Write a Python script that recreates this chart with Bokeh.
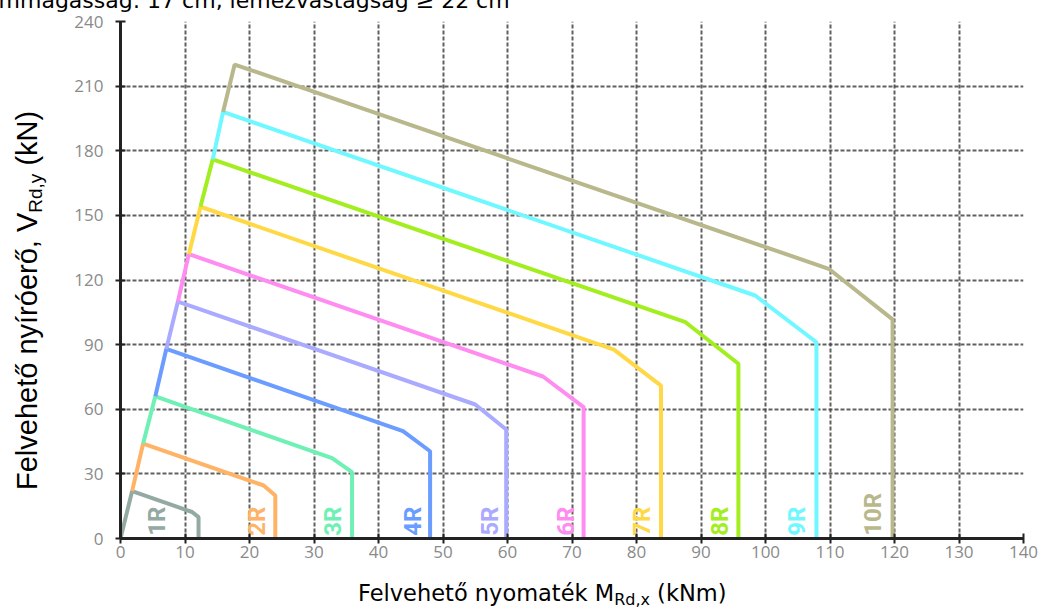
import math
from bokeh.plotting import figure
from bokeh.models import ColumnDataSource, Range1d, FixedTicker, Div
from bokeh.layouts import column, row
from bokeh.embed import file_html
from bokeh.resources import INLINE
from bokeh.core.properties import value

# ---------------- data ----------------
series = ["1R", "2R", "3R", "4R", "5R", "6R", "7R", "8R", "9R", "10R"]
colors = ["#93aaa3", "#ffb366", "#6ff0b4", "#6b9cff", "#aaaaff",
          "#ff8cf0", "#ffd945", "#a2ee1e", "#6ff8ff", "#b8b88c"]
# peak (start of the sloping branch): moment kNm / shear kN
peak_moment = [1.8, 3.5, 5.4, 7.1, 8.9, 10.6, 12.4, 14.3, 15.9, 17.7]
peak_shear = [22, 44, 66, 88, 110, 132, 154, 176, 198, 220]
# knee of the sloping branch
knee_moment = [11.1, 22.2, 32.8, 43.8, 55.0, 65.5, 76.5, 87.6, 98.4, 109.8]
knee_shear = [12.3, 24.6, 37.3, 49.8, 62.2, 75.2, 87.7, 100.4, 112.8, 125.2]
# maximum moment and shear where the vertical branch starts
max_moment = [12.1, 24.0, 35.9, 48.0, 59.8, 71.8, 83.8, 95.8, 107.9, 119.7]
shear_at_max_moment = [9.9, 20.0, 30.8, 40.5, 50.6, 61.0, 71.0, 81.1, 91.1, 101.7]
# curve label positions (moment axis)
label_moment = [5.7, 21.2, 33.0, 45.4, 57.3, 69.1, 80.9, 92.9, 104.9, 116.7]
label_shear = [1.3] * 10

x_ticks = list(range(0, 141, 10))
y_ticks = list(range(0, 241, 30))

title_text = "Elemmagasság: 17 cm, lemezvastagság ≥ 22 cm"
x_label_parts = ["Felvehető nyomaték M", "Rd,x", " (kNm)"]
y_label_parts = ["Felvehető nyíróerő, V", "Rd,y", " (kN)"]

# ---------------- layout sizes ----------------
TOTAL_W = 1040
TITLE_H = 14
TITLE_OVERLAP = 7
YLAB_W = 45
FIG_W = TOTAL_W - YLAB_W
FIG_H = 567
XLAB_H = 32

# ---------------- figure ----------------
p = figure(width=FIG_W, height=FIG_H, output_backend="svg", toolbar_location=None,
           x_range=Range1d(0, 140), y_range=Range1d(0, 240),
           min_border_left=75, min_border_right=17,
           min_border_top=14, min_border_bottom=36)
p.outline_line_color = None
p.background_fill_color = "white"
p.border_fill_color = None

for ax, ticks in ((p.xaxis, x_ticks), (p.yaxis, y_ticks)):
    ax.ticker = FixedTicker(ticks=ticks)
    ax.axis_line_color = "#222222"
    ax.axis_line_width = 3
    ax.major_tick_line_color = "#222222"
    ax.major_tick_line_width = 2
    ax.major_tick_in = 5
    ax.major_tick_out = 5
    ax.minor_tick_line_color = None
    ax.major_label_text_font = "Open Sans"
    ax.major_label_text_font_size = "17px"
    ax.major_label_text_color = "#8a8a8a"
p.xaxis.major_label_standoff = 2
p.yaxis.major_label_standoff = 12

for g, ticks in ((p.xgrid, x_ticks), (p.ygrid, y_ticks)):
    g.ticker = FixedTicker(ticks=ticks)
    g.grid_line_color = "#444444"
    g.grid_line_dash = "4 2"
    g.grid_line_width = 2
    g.grid_line_alpha = 0.85

# ---------------- curves ----------------
xs, ys = [], []
for i in range(len(series)):
    px0 = 0 if i == 0 else peak_moment[i - 1]
    py0 = 0 if i == 0 else peak_shear[i - 1]
    xs.append([px0, peak_moment[i], knee_moment[i], max_moment[i], max_moment[i]])
    ys.append([py0, peak_shear[i], knee_shear[i], shear_at_max_moment[i], 0])

src = ColumnDataSource(dict(xs=xs, ys=ys, color=colors))
p.multi_line(xs="xs", ys="ys", line_color="color", line_width=4, source=src)

lab_src = ColumnDataSource(dict(x=label_moment, y=label_shear, text=series, color=colors))
p.text(x="x", y="y", text="text", text_color="color", angle=math.pi / 2,
       text_font=value("Roboto"), text_font_style="bold", text_font_size="24px",
       text_align="left", text_baseline="middle", source=lab_src)

# ---------------- titles as HTML (subscripts) ----------------
title_html = (
    f'<div style="position:relative;width:{TOTAL_W}px;height:{TITLE_H}px;overflow:hidden;">'
    '<span style="position:absolute;left:-35px;top:-11.6px;white-space:nowrap;'
    "font-family:'DejaVu Sans';font-size:22px;line-height:26px;color:#000;\">"
    f'{title_text}</span></div>'
)
title_div = Div(text=title_html, width=TOTAL_W, height=TITLE_H,
                margin=(0, 0, -TITLE_OVERLAP, 0))

ylab_html = (
    f'<div style="position:relative;width:{YLAB_W}px;height:{FIG_H}px;overflow:visible;">'
    '<span style="position:absolute;left:10.5px;top:483px;white-space:nowrap;'
    'transform-origin:0 0;transform:rotate(-90deg);'
    "font-family:'Liberation Sans';font-size:29px;line-height:33px;color:#000;\">"
    f'{y_label_parts[0]}<span style="font-size:19px;vertical-align:-5px;">{y_label_parts[1]}</span>'
    f'{y_label_parts[2]}</span></div>'
)
ylab_div = Div(text=ylab_html, width=YLAB_W, height=FIG_H, margin=0)

xlab_html = (
    f'<div style="position:relative;width:{TOTAL_W}px;height:{XLAB_H}px;overflow:visible;">'
    '<span style="position:absolute;left:358px;top:6.2px;white-space:nowrap;'
    "font-family:'DejaVu Sans';font-size:22.5px;line-height:26px;color:#000;\">"
    f'{x_label_parts[0]}<span style="font-size:16px;vertical-align:-4px;">{x_label_parts[1]}</span>'
    f'{x_label_parts[2]}</span></div>'
)
xlab_div = Div(text=xlab_html, width=TOTAL_W, height=XLAB_H, margin=0)

layout = column(title_div, row(ylab_div, p, spacing=0), xlab_div, spacing=0)

open("out.html", "w").write(file_html(layout, INLINE))
